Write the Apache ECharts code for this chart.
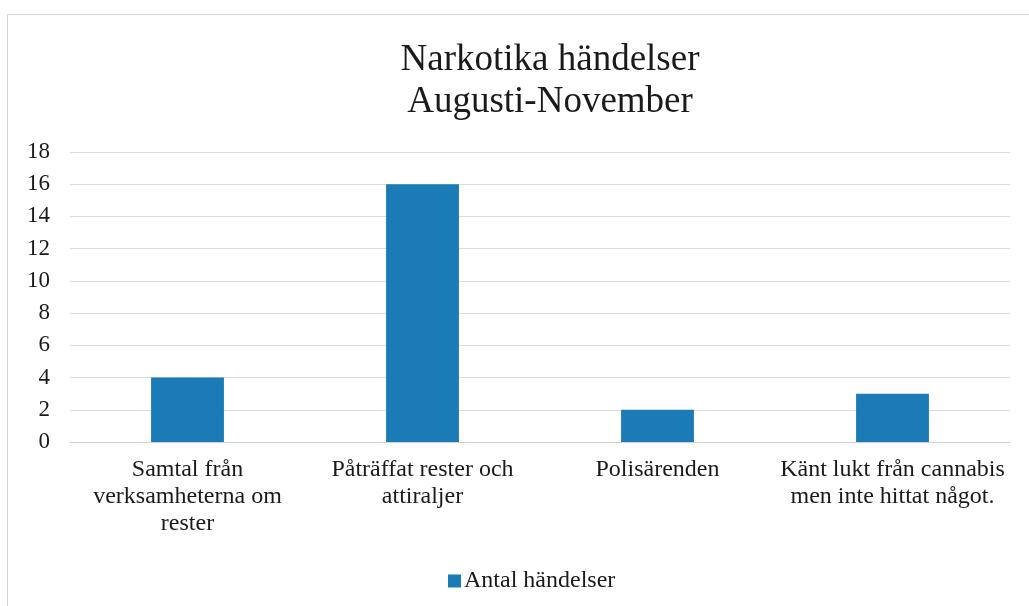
<!DOCTYPE html>
<html>
<head>
<meta charset="utf-8">
<script src="https://cdn.jsdelivr.net/npm/echarts@6/dist/echarts.min.js"></script>
<style>
  html, body { margin: 0; padding: 0; background: #fff; }
  #chart { width: 1029px; height: 606px; }
</style>
</head>
<body>
<div id="chart"></div>
<script>
// data
const categories = [
  "Samtal från\nverksamheterna om\nrester",
  "Påträffat rester och\nattiraljer",
  "Polisärenden",
  "Känt lukt från cannabis\nmen inte hittat något."
];
const values = [4, 16, 2, 3];
const seriesName = "Antal händelser";
const titleLines = ["Narkotika händelser", "Augusti-November"];

const serif = "'Liberation Serif', 'DejaVu Serif', serif";

const chart = echarts.init(document.getElementById("chart"));
chart.setOption({
  animation: false,
  textStyle: { fontFamily: serif },
  title: {
    text: titleLines.join("\n"),
    left: 545,
    textAlign: "center",
    top: 34,
    textStyle: {
      fontFamily: serif,
      fontSize: 37,
      fontWeight: "normal",
      color: "#1a1a1a",
      lineHeight: 42
    }
  },
  graphic: [{
    type: "rect",
    shape: { x: 7.5, y: 14.5, width: 1030, height: 600 },
    style: { fill: "none", stroke: "#d4d4d4", lineWidth: 1 },
    silent: true
  }],
  legend: {
    top: 564,
    left: 443,
    itemWidth: 13,
    itemHeight: 13,
    itemGap: 3,
    icon: "rect",
    textStyle: { fontFamily: serif, fontSize: 24, color: "#1a1a1a", padding: [0, 0, 0, -2] },
    data: [seriesName]
  },
  grid: { left: 70, right: 19, top: 152, bottom: 164, containLabel: false },
  xAxis: {
    type: "category",
    data: categories,
    axisLine: { lineStyle: { color: "#d0d0d0" } },
    axisTick: { show: false },
    axisLabel: {
      interval: 0,
      margin: 14,
      fontFamily: serif,
      fontSize: 24,
      lineHeight: 27,
      color: "#1a1a1a"
    }
  },
  yAxis: {
    type: "value",
    min: 0,
    max: 18,
    interval: 2,
    axisLine: { show: false },
    axisTick: { show: false },
    splitLine: { lineStyle: { color: "#dcdcdc" } },
    axisLabel: {
      margin: 20,
      fontFamily: serif,
      fontSize: 23,
      color: "#1a1a1a"
    }
  },
  series: [{
    name: seriesName,
    type: "bar",
    data: values,
    barWidth: "31%",
    itemStyle: { color: "#1a7bb6" }
  }]
});
</script>
</body>
</html>
